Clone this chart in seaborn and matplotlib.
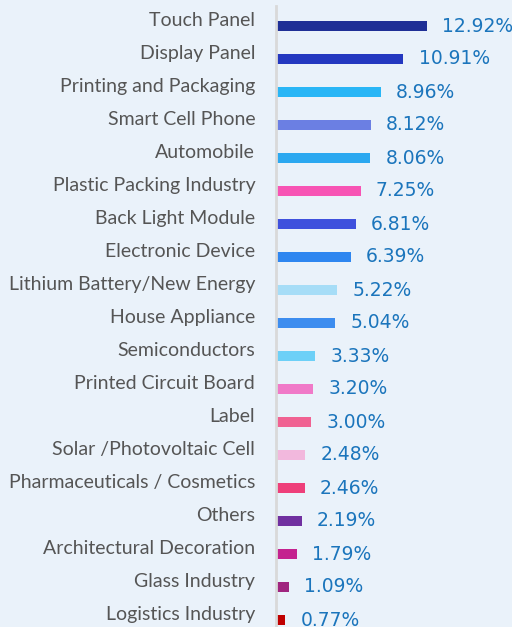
import pandas as pd
import matplotlib.pyplot as plt
import seaborn as sns

categories = [
    "Touch Panel", "Display Panel", "Printing and Packaging", "Smart Cell Phone",
    "Automobile", "Plastic Packing Industry", "Back Light Module", "Electronic Device",
    "Lithium Battery/New Energy", "House Appliance", "Semiconductors",
    "Printed Circuit Board", "Label", "Solar /Photovoltaic Cell",
    "Pharmaceuticals / Cosmetics", "Others", "Architectural Decoration",
    "Glass Industry", "Logistics Industry",
]
shares = [12.92, 10.91, 8.96, 8.12, 8.06, 7.25, 6.81, 6.39, 5.22, 5.04,
          3.33, 3.20, 3.00, 2.48, 2.46, 2.19, 1.79, 1.09, 0.77]
colors = [
    "#1F2F96", "#2438C0", "#29B6F6", "#6B7FE3", "#2BA8F0", "#F754B4",
    "#3F51DD", "#2E86F0", "#A6DDF7", "#3D8DEF", "#6DD0F7", "#F07AC8",
    "#F06292", "#F2B8DD", "#EE3F7A", "#7030A0", "#C4228F", "#A0257F",
    "#C00000",
]

bg = "#EAF2FA"
df = pd.DataFrame({"category": categories, "share": shares})

sns.set_theme(style="white")
plt.rcParams["font.family"] = ["DejaVu Sans"]

fig = plt.figure(figsize=(5.12, 6.27), dpi=100, facecolor=bg)
ax = fig.add_axes([276 / 512, 0, 1 - 276 / 512, 1])
ax.set_facecolor(bg)

sns.barplot(data=df, y="category", x="share", hue="category", palette=colors,
            saturation=1, legend=False, orient="h", width=0.3, linewidth=0, ax=ax)

ax.set_xlim(0, 20.2)
ax.set_ylim(18 + 7 / 33, -26 / 33)
ax.set_xlabel("")
ax.set_ylabel("")
ax.set_xticks([])
ax.set_yticks([])
for s in ["top", "right", "bottom"]:
    ax.spines[s].set_visible(False)
ax.spines["left"].set_color("#D9D9D9")
ax.spines["left"].set_linewidth(2)
ax.spines["left"].set_bounds(18.3, -0.62)

for i, (cat, val) in enumerate(zip(categories, shares)):
    ax.annotate(f"{val:.2f}%", (val, i), xytext=(11, 0), textcoords="offset points",
                ha="left", va="center", fontsize=13.5, color="#1B75BC")
    ax.annotate(cat, (0, i), xycoords=("axes fraction", "data"),
                xytext=(-15, 4), textcoords="offset points",
                ha="right", va="center", fontsize=14, color="#555555",
                family=["Lato", "DejaVu Sans"], annotation_clip=False)

fig.savefig("out.png", dpi=100, facecolor=bg)
